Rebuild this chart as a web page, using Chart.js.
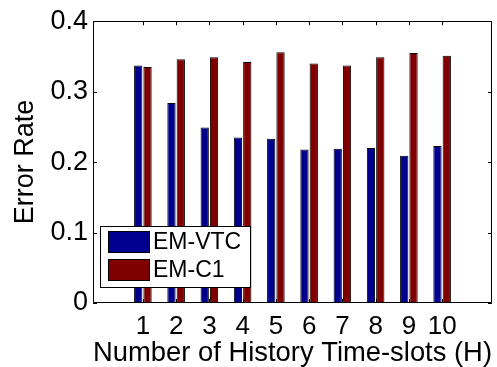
<!DOCTYPE html>
<html>
<head>
<meta charset="utf-8">
<script src="https://cdn.jsdelivr.net/npm/chart.js@4.4.1/dist/chart.umd.min.js"></script>
<style>
  body { margin: 0; background: #fff; }
  #wrap { width: 497px; height: 367px; position: relative; }
</style>
</head>
<body>
<div id="wrap"><canvas id="chart"></canvas></div>
<script>
// history time-slots H
const categories = [1, 2, 3, 4, 5, 6, 7, 8, 9, 10];
const emVtc = [0.337, 0.284, 0.249, 0.235, 0.233, 0.218, 0.219, 0.220, 0.209, 0.223];
const emC1 = [0.335, 0.346, 0.349, 0.342, 0.356, 0.340, 0.337, 0.349, 0.355, 0.351];
const yTicks = [0, 0.1, 0.2, 0.3, 0.4];

const FONT = "'Liberation Sans', Arial, sans-serif";

// matlab style box with inward ticks on all sides
const frame = {
    id: 'frame',
    afterDatasetsDraw(chart) {
        const {ctx, chartArea: a, scales} = chart;
        ctx.save();
        ctx.strokeStyle = '#000';
        ctx.lineWidth = 1;
        ctx.beginPath();
        ctx.rect(Math.round(a.left) + 0.5, Math.round(a.top) + 0.5,
            Math.round(a.right - a.left) - 1, Math.round(a.bottom - a.top) - 1);
        yTicks.forEach(v => {
            const y = Math.round(scales.y.getPixelForValue(v)) + 0.5;
            ctx.moveTo(a.left, y); ctx.lineTo(a.left + 4, y);
            ctx.moveTo(a.right, y); ctx.lineTo(a.right - 4, y);
        });
        categories.forEach(c => {
            const x = Math.round(scales.x.getPixelForValue(c)) + 0.5;
            ctx.moveTo(x, a.bottom); ctx.lineTo(x, a.bottom - 4);
            ctx.moveTo(x, a.top); ctx.lineTo(x, a.top + 4);
        });
        ctx.stroke();
        ctx.restore();
    }
};

// legend box inside the plot, bottom left
const boxLegend = {
    id: 'boxLegend',
    afterDraw(chart) {
        const {ctx, chartArea: a} = chart;
        const x0 = a.left + 7, y0 = a.bottom - 77;
        ctx.save();
        ctx.fillStyle = '#fff';
        ctx.fillRect(x0, y0, 151, 62);
        ctx.strokeStyle = '#000';
        ctx.lineWidth = 1;
        ctx.strokeRect(x0 + 0.5, y0 + 0.5, 150, 61);
        ctx.font = '23px ' + FONT;
        ctx.textBaseline = 'middle';
        chart.data.datasets.forEach((ds, i) => {
            const sy = y0 + 5 + i * 28;
            ctx.fillStyle = ds.backgroundColor;
            ctx.fillRect(x0 + 8, sy, 42, 22);
            ctx.strokeRect(x0 + 8.5, sy + 0.5, 41, 21);
            ctx.fillStyle = '#000';
            ctx.fillText(ds.label, x0 + 53, sy + 12);
        });
        ctx.restore();
    }
};

new Chart(document.getElementById('chart'), {
    type: 'bar',
    data: {
        datasets: [
            {
                label: 'EM-VTC',
                data: categories.map((c, i) => ({x: c, y: emVtc[i]})),
                backgroundColor: '#00008F',
                borderColor: '#000',
                borderWidth: 1,
                categoryPercentage: 0.56,
                barPercentage: 0.89
            },
            {
                label: 'EM-C1',
                data: categories.map((c, i) => ({x: c, y: emC1[i]})),
                backgroundColor: '#800000',
                borderColor: '#000',
                borderWidth: 1,
                categoryPercentage: 0.56,
                barPercentage: 0.89
            }
        ]
    },
    options: {
        responsive: true,
        maintainAspectRatio: false,
        animation: false,
        layout: { padding: { top: 17, right: 5, left: 0, bottom: 0 } },
        plugins: {
            legend: { display: false },
            tooltip: { enabled: false }
        },
        scales: {
            x: {
                type: 'linear',
                min: 0,
                max: 11,
                grid: { display: false, drawTicks: false },
                border: { display: false },
                afterFit: s => { s.height = 64; },
                ticks: {
                    stepSize: 1,
                    autoSkip: false,
                    maxRotation: 0,
                    padding: 8,
                    color: '#000',
                    font: { family: FONT, size: 26 },
                    callback: v => (v >= 1 && v <= 10) ? String(v) : ''
                },
                title: {
                    display: true,
                    text: 'Number of History Time-slots (H)',
                    color: '#000',
                    font: { family: FONT, size: 28, lineHeight: 1 },
                    padding: { top: 0, bottom: 0 }
                }
            },
            y: {
                min: 0,
                max: 0.4,
                grid: { display: false, drawTicks: false },
                border: { display: false },
                afterFit: s => { s.width = 93; },
                ticks: {
                    stepSize: 0.1,
                    padding: 5,
                    color: '#000',
                    font: { family: FONT, size: 27 },
                    callback: v => v === 0 ? '0' : v.toFixed(1)
                },
                title: {
                    display: true,
                    text: 'Error Rate',
                    color: '#000',
                    font: { family: FONT, size: 27, lineHeight: 1 },
                    padding: { top: 12, bottom: 0 }
                }
            }
        }
    },
    plugins: [frame, boxLegend]
});
</script>
</body>
</html>
